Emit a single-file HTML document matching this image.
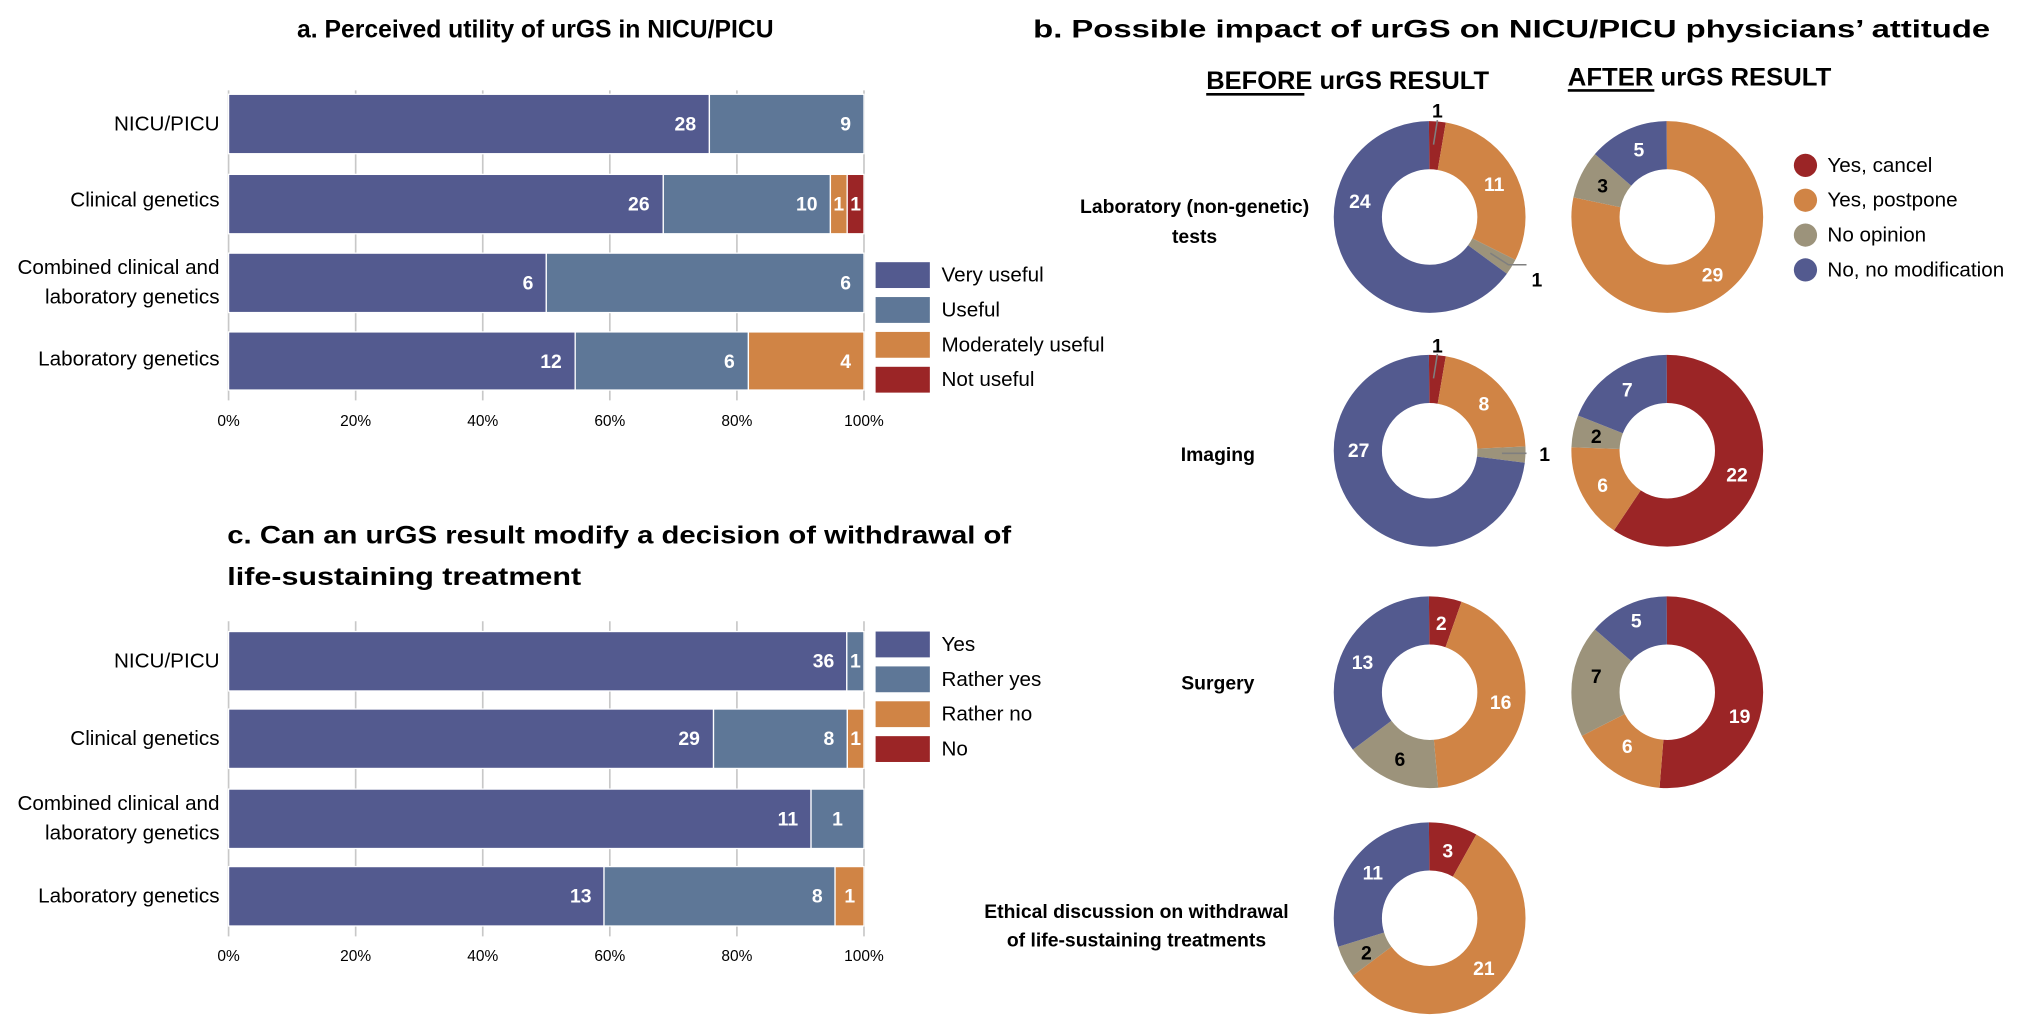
<!DOCTYPE html>
<html><head><meta charset="utf-8"><style>
html,body{margin:0;padding:0;background:#fff}
svg{display:block}
text{font-family:"Liberation Sans",sans-serif}
.t{font-weight:bold;font-size:19px;fill:#000}
.cat{font-size:16px;fill:#000}
.n{font-weight:bold;font-size:15px;fill:#fff}
.nb{font-weight:bold;font-size:15px;fill:#000}
.tk{font-size:12px;fill:#000}
.lg{font-size:16px;fill:#000}
.rl{font-weight:bold;font-size:15px;fill:#000}
</style></head><body>
<svg width="2025" height="1019" viewBox="0 0 1568 789" xmlns="http://www.w3.org/2000/svg">
<!-- Panel a -->
<text class="t" x="230" y="29" textLength="369" lengthAdjust="spacingAndGlyphs">a. Perceived utility of urGS in NICU/PICU</text>
<g stroke="#c8c8c8" stroke-width="1.3">
<line x1="177" y1="70" x2="177" y2="310"/><line x1="275.4" y1="70" x2="275.4" y2="310"/><line x1="373.8" y1="70" x2="373.8" y2="310"/><line x1="472.2" y1="70" x2="472.2" y2="310"/><line x1="570.6" y1="70" x2="570.6" y2="310"/><line x1="669" y1="70" x2="669" y2="310"/>
</g>
<g stroke="#fff" stroke-width="1">
<rect x="177" y="73" width="372.3" height="46" fill="#535a8f"/><rect x="549.3" y="73" width="119.7" height="46" fill="#5e7797"/>
<rect x="177" y="135" width="336.6" height="46" fill="#535a8f"/><rect x="513.6" y="135" width="129.4" height="46" fill="#5e7797"/><rect x="643" y="135" width="13" height="46" fill="#d08445"/><rect x="656" y="135" width="13" height="46" fill="#9b2526"/>
<rect x="177" y="196" width="246" height="46" fill="#535a8f"/><rect x="423" y="196" width="246" height="46" fill="#5e7797"/>
<rect x="177" y="257" width="268.4" height="45" fill="#535a8f"/><rect x="445.4" y="257" width="134.1" height="45" fill="#5e7797"/><rect x="579.5" y="257" width="89.5" height="45" fill="#d08445"/>
</g>
<g class="n">
<text x="539" y="101" text-anchor="end">28</text><text x="659" y="101" text-anchor="end">9</text>
<text x="503" y="163" text-anchor="end">26</text><text x="633" y="163" text-anchor="end">10</text><text x="649.5" y="163" text-anchor="middle">1</text><text x="662.5" y="163" text-anchor="middle">1</text>
<text x="413" y="224" text-anchor="end">6</text><text x="659" y="224" text-anchor="end">6</text>
<text x="435" y="285" text-anchor="end">12</text><text x="569" y="285" text-anchor="end">6</text><text x="659" y="285" text-anchor="end">4</text>
</g>
<g class="cat" text-anchor="end">
<text x="170" y="101">NICU/PICU</text><text x="170" y="160">Clinical genetics</text>
<text x="170" y="212">Combined clinical and</text><text x="170" y="235">laboratory genetics</text>
<text x="170" y="283">Laboratory genetics</text>
</g>
<g class="tk" text-anchor="middle">
<text x="177" y="330">0%</text><text x="275.4" y="330">20%</text><text x="373.8" y="330">40%</text><text x="472.2" y="330">60%</text><text x="570.6" y="330">80%</text><text x="669" y="330">100%</text>
</g>
<rect x="678" y="203" width="42" height="20" fill="#535a8f"/><rect x="678" y="230" width="42" height="20" fill="#5e7797"/><rect x="678" y="257" width="42" height="20" fill="#d08445"/><rect x="678" y="284" width="42" height="20" fill="#9b2526"/>
<g class="lg"><text x="729" y="218">Very useful</text><text x="729" y="245">Useful</text><text x="729" y="272">Moderately useful</text><text x="729" y="299">Not useful</text></g>

<!-- Panel c -->
<text class="t" x="176" y="421" textLength="607" lengthAdjust="spacingAndGlyphs">c. Can an urGS result modify a decision of withdrawal of</text>
<text class="t" x="176" y="453" textLength="274" lengthAdjust="spacingAndGlyphs">life-sustaining treatment</text>
<g stroke="#c8c8c8" stroke-width="1.3">
<line x1="177" y1="481" x2="177" y2="725"/><line x1="275.4" y1="481" x2="275.4" y2="725"/><line x1="373.8" y1="481" x2="373.8" y2="725"/><line x1="472.2" y1="481" x2="472.2" y2="725"/><line x1="570.6" y1="481" x2="570.6" y2="725"/><line x1="669" y1="481" x2="669" y2="725"/>
</g>
<g stroke="#fff" stroke-width="1">
<rect x="177" y="489" width="478.7" height="46" fill="#535a8f"/><rect x="655.7" y="489" width="13.3" height="46" fill="#5e7797"/>
<rect x="177" y="549" width="375.5" height="46" fill="#535a8f"/><rect x="552.5" y="549" width="103.6" height="46" fill="#5e7797"/><rect x="656.1" y="549" width="12.9" height="46" fill="#d08445"/>
<rect x="177" y="611" width="451" height="46" fill="#535a8f"/><rect x="628" y="611" width="41" height="46" fill="#5e7797"/>
<rect x="177" y="671" width="290.7" height="46" fill="#535a8f"/><rect x="467.7" y="671" width="178.9" height="46" fill="#5e7797"/><rect x="646.6" y="671" width="22.4" height="46" fill="#d08445"/>
</g>
<g class="n">
<text x="646" y="517" text-anchor="end">36</text><text x="662.3" y="517" text-anchor="middle">1</text>
<text x="542" y="577" text-anchor="end">29</text><text x="646" y="577" text-anchor="end">8</text><text x="662.5" y="577" text-anchor="middle">1</text>
<text x="618" y="639" text-anchor="end">11</text><text x="648.5" y="639" text-anchor="middle">1</text>
<text x="458" y="699" text-anchor="end">13</text><text x="637" y="699" text-anchor="end">8</text><text x="658" y="699" text-anchor="middle">1</text>
</g>
<g class="cat" text-anchor="end">
<text x="170" y="517">NICU/PICU</text><text x="170" y="577">Clinical genetics</text>
<text x="170" y="627">Combined clinical and</text><text x="170" y="650">laboratory genetics</text>
<text x="170" y="699">Laboratory genetics</text>
</g>
<g class="tk" text-anchor="middle">
<text x="177" y="744">0%</text><text x="275.4" y="744">20%</text><text x="373.8" y="744">40%</text><text x="472.2" y="744">60%</text><text x="570.6" y="744">80%</text><text x="669" y="744">100%</text>
</g>
<rect x="678" y="489" width="42" height="20" fill="#535a8f"/><rect x="678" y="516" width="42" height="20" fill="#5e7797"/><rect x="678" y="543" width="42" height="20" fill="#d08445"/><rect x="678" y="570" width="42" height="20" fill="#9b2526"/>
<g class="lg"><text x="729" y="504">Yes</text><text x="729" y="531">Rather yes</text><text x="729" y="558">Rather no</text><text x="729" y="585">No</text></g>

<!-- Panel b -->
<text class="t" x="800" y="29" textLength="741" lengthAdjust="spacingAndGlyphs">b. Possible impact of urGS on NICU/PICU physicians’ attitude</text>
<text class="t" x="934" y="69" textLength="219" lengthAdjust="spacingAndGlyphs">BEFORE urGS RESULT</text>
<line x1="934" y1="73" x2="1010" y2="73" stroke="#000" stroke-width="2"/>
<text class="t" x="1214" y="66" textLength="204" lengthAdjust="spacingAndGlyphs">AFTER urGS RESULT</text>
<line x1="1214" y1="70" x2="1281" y2="70" stroke="#000" stroke-width="2"/>

<g class="rl" text-anchor="middle">
<text x="925" y="165">Laboratory (non-genetic)</text><text x="925" y="188">tests</text>
<text x="943" y="357">Imaging</text>
<text x="943" y="534">Surgery</text>
<text x="880" y="711">Ethical discussion on withdrawal</text><text x="880" y="733">of life-sustaining treatments</text>
</g>

<g fill="none" stroke-width="37.3">
<g transform="translate(1107,168) rotate(-90)">
<circle r="55.6" pathLength="37" stroke="#9b2526" stroke-dasharray="1 36" stroke-dashoffset="0"/>
<circle r="55.6" pathLength="37" stroke="#d08445" stroke-dasharray="11 26" stroke-dashoffset="-1"/>
<circle r="55.6" pathLength="37" stroke="#9c937b" stroke-dasharray="1 36" stroke-dashoffset="-12"/>
<circle r="55.6" pathLength="37" stroke="#535a8f" stroke-dasharray="24 13" stroke-dashoffset="-13"/>
</g>
<g transform="translate(1291,168) rotate(-90)">
<circle r="55.6" pathLength="37" stroke="#d08445" stroke-dasharray="29 8" stroke-dashoffset="0"/>
<circle r="55.6" pathLength="37" stroke="#9c937b" stroke-dasharray="3 34" stroke-dashoffset="-29"/>
<circle r="55.6" pathLength="37" stroke="#535a8f" stroke-dasharray="5 32" stroke-dashoffset="-32"/>
</g>
<g transform="translate(1107,349) rotate(-90)">
<circle r="55.6" pathLength="37" stroke="#9b2526" stroke-dasharray="1 36" stroke-dashoffset="0"/>
<circle r="55.6" pathLength="37" stroke="#d08445" stroke-dasharray="8 29" stroke-dashoffset="-1"/>
<circle r="55.6" pathLength="37" stroke="#9c937b" stroke-dasharray="1 36" stroke-dashoffset="-9"/>
<circle r="55.6" pathLength="37" stroke="#535a8f" stroke-dasharray="27 10" stroke-dashoffset="-10"/>
</g>
<g transform="translate(1291,349) rotate(-90)">
<circle r="55.6" pathLength="37" stroke="#9b2526" stroke-dasharray="22 15" stroke-dashoffset="0"/>
<circle r="55.6" pathLength="37" stroke="#d08445" stroke-dasharray="6 31" stroke-dashoffset="-22"/>
<circle r="55.6" pathLength="37" stroke="#9c937b" stroke-dasharray="2 35" stroke-dashoffset="-28"/>
<circle r="55.6" pathLength="37" stroke="#535a8f" stroke-dasharray="7 30" stroke-dashoffset="-30"/>
</g>
<g transform="translate(1107,536) rotate(-90)">
<circle r="55.6" pathLength="37" stroke="#9b2526" stroke-dasharray="2 35" stroke-dashoffset="0"/>
<circle r="55.6" pathLength="37" stroke="#d08445" stroke-dasharray="16 21" stroke-dashoffset="-2"/>
<circle r="55.6" pathLength="37" stroke="#9c937b" stroke-dasharray="6 31" stroke-dashoffset="-18"/>
<circle r="55.6" pathLength="37" stroke="#535a8f" stroke-dasharray="13 24" stroke-dashoffset="-24"/>
</g>
<g transform="translate(1291,536) rotate(-90)">
<circle r="55.6" pathLength="37" stroke="#9b2526" stroke-dasharray="19 18" stroke-dashoffset="0"/>
<circle r="55.6" pathLength="37" stroke="#d08445" stroke-dasharray="6 31" stroke-dashoffset="-19"/>
<circle r="55.6" pathLength="37" stroke="#9c937b" stroke-dasharray="7 30" stroke-dashoffset="-25"/>
<circle r="55.6" pathLength="37" stroke="#535a8f" stroke-dasharray="5 32" stroke-dashoffset="-32"/>
</g>
<g transform="translate(1107,711) rotate(-90)">
<circle r="55.6" pathLength="37" stroke="#9b2526" stroke-dasharray="3 34" stroke-dashoffset="0"/>
<circle r="55.6" pathLength="37" stroke="#d08445" stroke-dasharray="21 16" stroke-dashoffset="-3"/>
<circle r="55.6" pathLength="37" stroke="#9c937b" stroke-dasharray="2 35" stroke-dashoffset="-24"/>
<circle r="55.6" pathLength="37" stroke="#535a8f" stroke-dasharray="11 26" stroke-dashoffset="-26"/>
</g>
</g>

<g stroke="#7f7f7f" stroke-width="1.2" fill="none">
<polyline points="1110,112 1113,93"/>
<polyline points="1154,196 1168,205 1182,205"/>
<polyline points="1110,293 1113,274"/>
<polyline points="1163,351 1182,351"/>
</g>

<g text-anchor="middle">
<text class="nb" x="1113" y="91">1</text>
<text class="n" x="1157" y="148">11</text>
<text class="nb" x="1190" y="222">1</text>
<text class="n" x="1053" y="161">24</text>
<text class="n" x="1269" y="121">5</text>
<text class="nb" x="1241" y="149">3</text>
<text class="n" x="1326" y="218">29</text>

<text class="nb" x="1113" y="273">1</text>
<text class="n" x="1149" y="318">8</text>
<text class="nb" x="1196" y="357">1</text>
<text class="n" x="1052" y="354">27</text>
<text class="n" x="1260" y="307">7</text>
<text class="nb" x="1236" y="343">2</text>
<text class="n" x="1241" y="381">6</text>
<text class="n" x="1345" y="373">22</text>

<text class="n" x="1116" y="488">2</text>
<text class="n" x="1162" y="549">16</text>
<text class="nb" x="1084" y="593">6</text>
<text class="n" x="1055" y="518">13</text>
<text class="n" x="1267" y="486">5</text>
<text class="nb" x="1236" y="529">7</text>
<text class="n" x="1260" y="583">6</text>
<text class="n" x="1347" y="560">19</text>

<text class="n" x="1121" y="664">3</text>
<text class="n" x="1149" y="755">21</text>
<text class="nb" x="1058" y="743">2</text>
<text class="n" x="1063" y="681">11</text>
</g>

<circle cx="1398" cy="128" r="9" fill="#9b2526"/><circle cx="1398" cy="155" r="9" fill="#d08445"/><circle cx="1398" cy="182" r="9" fill="#9c937b"/><circle cx="1398" cy="209" r="9" fill="#535a8f"/>
<g class="lg"><text x="1415" y="133">Yes, cancel</text><text x="1415" y="160">Yes, postpone</text><text x="1415" y="187">No opinion</text><text x="1415" y="214">No, no modification</text></g>
</svg>
</body></html>
